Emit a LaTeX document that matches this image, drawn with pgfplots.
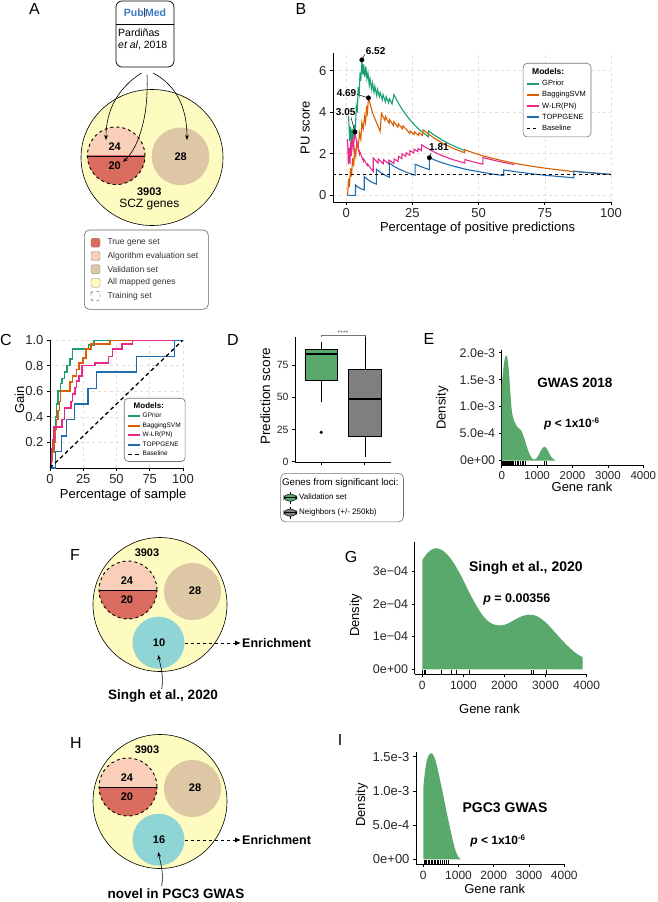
\documentclass[border=0pt]{standalone}
\usepackage{fontspec}
\setmainfont{Liberation Sans}
\setsansfont{Liberation Sans}
\usepackage{pgfplots}
\pgfplotsset{compat=1.18}
\usetikzlibrary{arrows.meta}

\newcommand\fs[1]{\fontsize{#1}{#1}\selectfont}

\definecolor{cgreen}{HTML}{1B9E77}
\definecolor{corange}{HTML}{D95F02}
\definecolor{cpink}{HTML}{E7298A}
\definecolor{cblue}{HTML}{1F6DB0}
\definecolor{dgreen}{HTML}{58A96B}
\definecolor{bgray}{HTML}{7F7F7F}
\definecolor{cyellow}{HTML}{FEFBC0}
\definecolor{csalmon}{HTML}{F9CFB9}
\definecolor{cred}{HTML}{D96C5E}
\definecolor{ctan}{HTML}{DDC7A5}
\definecolor{ccyan}{HTML}{90D5D6}
\definecolor{gridc}{HTML}{EFDCCB}
\definecolor{pmblue}{HTML}{3B78C2}

\pgfplotsset{
  gg/.style={
    scale only axis, axis lines=left,
    axis line style={-, line width=0.7pt, black},
    tick align=outside, major tick length=3pt,
    tick style={line width=0.7pt, black},
    /pgf/number format/assume math mode=true,
    /pgf/number format/1000 sep={},
    scaled ticks=false, clip mode=individual, anchor=south west,
    legend cell align=left,
    tick label style={text=black!85},
  },
  modleg/.style={legend image code/.code={\draw[##1,line width=2pt] (0pt,0pt)--(12pt,0pt);}},
  baseleg/.style={legend image code/.code={\draw[##1,line width=0.6pt] (0pt,0pt)--(12pt,0pt);}},
  boxg/.style={legend image code/.code={%
    \draw[fill=dgreen,line width=0.5pt] (0pt,-3.5pt) rectangle (13pt,3.5pt);
    \draw[line width=0.5pt] (0pt,0pt)--(13pt,0pt) (6.5pt,3.5pt)--(6.5pt,6pt) (6.5pt,-3.5pt)--(6.5pt,-6pt);}},
  boxk/.style={legend image code/.code={%
    \draw[fill=bgray,line width=0.5pt] (0pt,-3.5pt) rectangle (13pt,3.5pt);
    \draw[line width=0.5pt] (0pt,0pt)--(13pt,0pt) (6.5pt,3.5pt)--(6.5pt,6pt) (6.5pt,-3.5pt)--(6.5pt,-6pt);}},
}

% small Venn diagram used in F and H
\newcommand\venn[2]{%
  \fill[cyellow] (160,604.5) circle (67pt);
  \draw[line width=0.6pt] (160,604.5) circle (67pt);
  \begin{scope}\clip (98,560) rectangle (158,590);
    \fill[csalmon] (128,590) circle (29pt);\end{scope}
  \begin{scope}\clip (98,590) rectangle (158,620);
    \fill[cred] (128,590) circle (29pt);\end{scope}
  \draw[line width=0.5pt] (99,590)--(157,590);
  \draw[dashed, line width=0.9pt] (128,590) circle (29pt);
  \fill[ctan] (192.5,591.5) circle (28.5pt);
  \fill[ccyan] (158.5,642.7) circle (26pt);
  \node[font=\bfseries\fs{11}] at (147,553) {3903};
  \node[font=\bfseries\fs{11}] at (127,581) {24};
  \node[font=\bfseries\fs{11}] at (127,600) {20};
  \node[font=\bfseries\fs{11}] at (195,591) {28};
  \node[font=\bfseries\fs{11}] at (159,643) {#1};
  \draw[dashed, line width=0.8pt, -{Latex[length=6pt,width=5pt]}] (185,643) -- (241,643);
  \node[anchor=west, inner sep=0pt, font=\bfseries\fs{12.5}] at (242,643) {Enrichment};
  \draw[line width=0.6pt, -{Stealth[length=5pt]}] (161.7,689) .. controls (164,675) and (160,664) .. (158.3,655);
  \node[font=\bfseries\fs{13.5}] at (#2) {\strut\vennlabel};
}

\begin{document}
\begin{tikzpicture}
\useasboundingbox (0,0) rectangle (658pt,-902pt);

\begin{scope}[x=1pt,y=-1pt]
% panel letters
\node[font=\fs{16}] at (34.5,9) {A};
\node[font=\fs{16}] at (301,9) {B};
\node[font=\fs{16}] at (6,339.5) {C};
\node[font=\fs{16}] at (233,339.5) {D};
\node[font=\fs{16}] at (429,339) {E};
\node[font=\fs{16}] at (75,555) {F};
\node[font=\fs{16}] at (351,557) {G};
\node[font=\fs{16}] at (76,743) {H};
\node[font=\fs{16}] at (340,740) {I};

% ---- A: PubMed box
\draw[line width=0.7pt, rounded corners=6pt] (116,1) rectangle (174,67);
\draw[line width=0.6pt] (116,24) -- (174,24);
\node[font=\bfseries\fs{10.5}, inner sep=0pt] at (145,12.5) {{\color{pmblue}Pub}{\color{black!75}\rule[-0.5pt]{1.3pt}{9pt}}{\color{pmblue}Med}};
\node[anchor=west, inner sep=0pt, font=\fs{10.5}] at (118,33) {Pardiñas};
\node[anchor=west, inner sep=0pt, font=\fs{10.5}] at (118,45) {\textit{et al}, 2018};

% ---- A: venn
\fill[cyellow] (152,157.5) ellipse [x radius=71pt, y radius=68pt];
\draw[line width=0.6pt] (152,157.5) ellipse [x radius=71pt, y radius=68pt];
\begin{scope}\clip (86,126) rectangle (146,155.8);
  \fill[csalmon] (116.2,155.8) circle (28.8pt);\end{scope}
\begin{scope}\clip (86,155.8) rectangle (146,186);
  \fill[cred] (116.2,155.8) circle (28.8pt);\end{scope}
\draw[line width=0.5pt] (87.4,155.8)--(145,155.8);
\draw[dashed, line width=0.9pt] (116.2,155.8) circle (28.8pt);
\fill[ctan] (180.5,156.3) circle (28.8pt);
\node[font=\bfseries\fs{11}] at (114.7,146.7) {24};
\node[font=\bfseries\fs{11}] at (114.7,165.7) {20};
\node[font=\bfseries\fs{11}] at (180.7,156.7) {28};
\node[font=\bfseries\fs{11}] at (149.3,191.7) {3903};
\node[font=\fs{12}] at (149.3,205) {SCZ genes};
\draw[line width=0.6pt, -{Stealth[length=5pt]}] (141.5,73) .. controls (118,88) and (106,110) .. (106,140);
\draw[line width=0.6pt, -{Stealth[length=5pt]}] (147,75) .. controls (149,122) and (136,150) .. (123,162);
\draw[line width=0.6pt, -{Stealth[length=5pt]}] (153,73) .. controls (178,86) and (187,110) .. (187,140);

% ---- A: legend
\draw[black!60, line width=0.6pt, rounded corners=5pt, fill=white] (84.3,230) rectangle (208.3,309.3);
\filldraw[fill=cred, draw=black!45, rounded corners=1.5pt] (91,238.2) rectangle (100,247.2);
\filldraw[fill=csalmon, draw=black!45, rounded corners=1.5pt] (91,251.5) rectangle (100,260.5);
\filldraw[fill=ctan, draw=black!45, rounded corners=1.5pt] (91,264.8) rectangle (100,273.8);
\filldraw[fill=cyellow, draw=black!45, rounded corners=1.5pt] (91,278.2) rectangle (100,287.2);
\draw[black!80, dashed, rounded corners=1.5pt] (91,291.5) rectangle (100,300.5);
\node[anchor=west, font=\fs{8.5}, text=black!80] at (104,242.7) {True gene set};
\node[anchor=west, font=\fs{8.5}, text=black!80] at (104,256) {Algorithm evaluation set};
\node[anchor=west, font=\fs{8.5}, text=black!80] at (104,269.3) {Validation set};
\node[anchor=west, font=\fs{8.5}, text=black!80] at (104,282.7) {All mapped genes};
\node[anchor=west, font=\fs{8.5}, text=black!80] at (104,296) {Training set};

% ---- F and H
\def\vennlabel{Singh et al., 2020}
\venn{10}{163,696.7}
\begin{scope}[yshift=-197pt]
\def\vennlabel{novel in PGC3 GWAS}
\venn{16}{176,699}
\end{scope}
\end{scope}

% ================= B
\begin{axis}[gg, at={(333pt,-202pt)}, width=278pt, height=149pt,
  xmin=-5, xmax=100, ymin=-0.32, ymax=6.85,
  xtick={0,25,50,75,100}, ytick={0,2,4,6},
  grid=major, major grid style={dashed, gridc, line width=0.6pt},
  tick label style={font=\fs{13}},
  label style={font=\fs{13}},
  xlabel={Percentage of positive predictions}, ylabel={PU score},
  xlabel style={at={(axis description cs:0.52,-0.174)}, anchor=center},
  ylabel style={at={(axis description cs:-0.1,0.5)}, anchor=center},
  legend style={at={(axis description cs:0.683,0.933)}, anchor=north west,
    draw=black!55, rounded corners=4pt, line width=0.6pt, font=\fs{7.5},
    inner sep=3pt, row sep=0.3pt, fill=white},
]
\addlegendimage{empty legend}\addlegendentry{\hspace{-10pt}\textbf{\fs{8.5}Models:}}
\addplot[cgreen, line width=1.1pt, modleg] coordinates {
(0.88,3.83)(1.3,2.6)(1.6,3.3)(2.0,2.5)(2.3,3.2)(2.7,2.7)(3.0,3.4)(3.4,3.0)(3.8,4.3)(4.2,4.0)
(4.5,5.2)(4.9,4.9)(5.2,5.9)(5.5,5.5)(5.9,6.52)(6.3,5.8)(6.6,6.3)(7.0,5.7)(7.4,6.2)(7.8,5.6)
(8.2,5.9)(8.7,5.3)(9.0,5.6)(9.6,5.1)(9.9,5.4)(10.5,4.95)(10.8,5.25)(11.5,4.8)(11.8,5.1)
(12.5,4.75)(12.8,4.95)(13.6,4.6)(13.9,4.85)(14.8,4.5)(15.1,4.75)(16.0,4.45)(16.3,4.65)
(17.3,4.4)(18.0,4.85)(20,4.37)(22,3.97)(24,3.64)(26,3.36)(28,3.12)(31,2.82)(31.1,3.1)
(33,2.92)(36,2.68)(39,2.47)(42,2.3)(45,2.14)};
\addlegendentry{GPrior}
\addplot[corange, line width=1.1pt, modleg] coordinates {
(0.5,0)(0.9,0.8)(1.2,0.4)(1.6,1.3)(2.0,0.9)(2.4,1.8)(2.8,1.4)(3.2,2.2)(3.6,1.9)(4.0,2.6)
(4.5,2.3)(5.0,3.0)(5.5,2.7)(5.9,3.5)(6.4,3.2)(6.9,3.8)(7.3,3.5)(7.7,4.3)(8.0,4.0)(8.4,4.69)
(10,3.94)(12.8,3.08)(13.3,3.95)(14.6,3.6)(14.8,3.8)(16.2,3.47)(16.4,3.65)(17.8,3.36)(18.0,3.55)
(19.5,3.28)(19.7,3.45)(21.2,3.2)(21.4,3.35)(24.0,2.98)(24.2,3.1)(25.6,2.93)(25.8,3.05)
(27.3,2.88)(27.5,3.02)(28.8,2.88)(29.0,3.15)(33,2.77)(36,2.54)(40,2.28)(44.6,2.05)(44.6,2.2)
(50,1.96)(55,1.79)(60,1.64)(65,1.51)(70,1.4)(75,1.31)(80,1.23)(86,1.14)(86,1.16)(90,1.11)
(95,1.05)(100,1.0)};
\addlegendentry{BaggingSVM}
\addplot[cpink, line width=1.1pt, modleg] coordinates {
(0.5,2.7)(0.8,1.5)(1.1,2.3)(1.4,1.5)(1.7,2.6)(2.0,1.9)(2.3,2.8)(2.7,2.3)(3.3,3.05)(4,2.5)
(5,2.0)(5.1,2.1)(6.5,1.66)(6.6,1.74)(8,1.44)(8.1,1.5)(10.2,1.15)(10.2,1.8)(12,1.55)(12.1,1.75)
(14,1.52)(14.1,1.72)(16,1.52)(16.1,1.7)(18,1.53)(18.1,1.75)(19.6,1.63)(19.7,1.88)(21,1.77)
(21.1,2.0)(22.5,1.88)(22.6,2.05)(24,1.93)(24.1,2.15)(25.5,2.04)(25.6,2.22)(27,2.11)(27.1,2.25)
(28.4,2.15)(28.5,2.43)(30,2.31)(33,2.1)(36,1.92)(40,1.73)(44.8,1.55)(44.8,1.72)(48,1.61)
(51.6,1.5)(51.6,1.82)(56,1.68)(60,1.57)(63.5,1.48)};
\addlegendentry{W-LR(PN)}
\addplot[cblue, line width=1.1pt, modleg] coordinates {
(0.5,0)(3.5,0)(3.5,0.5)(4.5,0.39)(5.5,0.32)(6.8,0.26)(6.8,0.9)(8,0.77)(9.5,0.64)(11.4,0.54)
(11.4,1.25)(13,1.1)(14.5,0.98)(16.3,0.87)(16.3,1.55)(18,1.4)(20,1.26)(22,1.15)(24,1.05)
(26,0.97)(26,1.5)(28,1.39)(30,1.3)(31.4,1.24)(31.4,1.81)(35,1.62)(40,1.42)(45,1.26)(50,1.14)
(55,1.03)(59.5,0.955)(59.5,1.22)(65,1.12)(70,1.04)(75,0.97)(80,0.91)(86,0.845)(86,1.16)
(89,1.12)(92,1.085)(92,1.1)(100,1.01)};
\addlegendentry{TOPPGENE}
\addplot[black, dashed, line width=0.6pt, baseleg] coordinates {(-5,1)(100,1)};
\addlegendentry{Baseline}
\addplot[only marks, mark=*, mark size=2.2pt, black, forget plot] coordinates {
(5.9,6.52)(8.4,4.69)(3.3,3.05)(31.4,1.81)};
\node[font=\bfseries\fs{10}] at (axis cs:11.1,6.92) {6.52};
\draw[line width=0.5pt] (axis cs:5.9,6.52) -- (axis cs:7.0,6.78);
\node[font=\bfseries\fs{10}] at (axis cs:0.1,4.91) {4.69};
\draw[line width=0.5pt] (axis cs:4.0,4.86) -- (axis cs:8.4,4.69);
\node[font=\bfseries\fs{10}] at (axis cs:-0.2,4.0) {3.05};
\draw[line width=0.5pt] (axis cs:1.8,3.75) -- (axis cs:3.3,3.05);
\node[font=\bfseries\fs{10}] at (axis cs:35,2.3) {1.81};
\draw[line width=0.5pt] (axis cs:32,2.03) -- (axis cs:31.4,1.81);
\end{axis}

% ================= C
\begin{axis}[gg, at={(50pt,-468pt)}, width=133pt, height=128pt,
  xmin=0, xmax=100, ymin=0, ymax=1,
  xtick={0,25,50,75,100}, ytick={0.2,0.4,0.6,0.8,1.0},
  yticklabel style={/pgf/number format/.cd, fixed, fixed zerofill, precision=1},
  grid=major, major grid style={dashed, gridc, line width=0.6pt},
  tick label style={font=\fs{13}},
  label style={font=\fs{13}},
  xlabel={Percentage of sample}, ylabel={Gain},
  xlabel style={at={(axis description cs:0.55,-0.21)}, anchor=center},
  ylabel style={at={(axis description cs:-0.23,0.53)}, anchor=center},
  legend style={at={(axis description cs:0.556,0.547)}, anchor=north west,
    draw=black!55, rounded corners=4pt, line width=0.6pt, font=\fs{6.5},
    inner sep=2.5pt, row sep=-0.8pt, fill=white},
]
\addlegendimage{empty legend}\addlegendentry{\hspace{-9pt}\textbf{\fs{8}Models:}}
\addplot[cgreen, line width=1.6pt, modleg] coordinates {
(0,0)(1,0)(1,0.06)(2,0.06)(2,0.15)(3,0.15)(3,0.3)(4,0.3)(4,0.4)(5,0.4)(5,0.5)(6,0.5)(6,0.6)
(8,0.6)(8,0.66)(9,0.66)(9,0.7)(11,0.7)(11,0.75)(13,0.75)(13,0.8)(15,0.8)(15,0.85)(17,0.85)
(17,0.93)(29,0.93)(29,0.96)(33,0.96)(33,1)(100,1)};
\addlegendentry{GPrior}
\addplot[corange, line width=1.6pt, modleg] coordinates {
(0,0)(1,0)(1,0.05)(2,0.05)(2,0.12)(3,0.12)(3,0.2)(4,0.2)(4,0.3)(5,0.3)(5,0.38)(6,0.38)
(6,0.45)(7,0.45)(7,0.52)(8,0.52)(8,0.6)(15,0.6)(15,0.67)(17,0.67)(17,0.72)(20,0.72)(20,0.77)
(22,0.77)(22,0.82)(25,0.82)(25,0.86)(27,0.86)(27,0.93)(31,0.93)(31,0.97)(45,0.97)(45,1)(100,1)};
\addlegendentry{BaggingSVM}
\addplot[cpink, line width=1.6pt, modleg] coordinates {
(0,0)(1,0)(1,0.15)(2,0.15)(2,0.22)(3,0.22)(3,0.32)(9,0.32)(9,0.38)(11,0.38)(11,0.47)(16,0.47)
(16,0.52)(17,0.52)(17,0.58)(19,0.58)(19,0.63)(20,0.63)(20,0.68)(22,0.68)(22,0.72)(24,0.72)
(24,0.8)(34,0.8)(34,0.82)(44,0.82)(44,0.87)(47,0.87)(47,0.93)(54,0.93)(54,0.97)(62,0.97)
(62,1)(100,1)};
\addlegendentry{W-LR(PN)}
\addplot[cblue, line width=1.6pt, modleg] coordinates {
(0,0)(4,0)(4,0.13)(8.5,0.13)(8.5,0.25)(12.5,0.25)(12.5,0.38)(18.5,0.38)(18.5,0.5)(28.5,0.5)
(28.5,0.62)(35,0.62)(35,0.75)(65,0.75)(65,0.87)(93.5,0.87)(93.5,1)(100,1)};
\addlegendentry{TOPPGENE}
\addplot[black, line width=1.3pt, dash pattern=on 4pt off 3pt, baseleg] coordinates {(0,0)(100,1)};
\addlegendentry{Baseline}
\end{axis}

% ================= D
\begin{axis}[gg, at={(295pt,-462.3pt)}, width=96pt, height=125.6pt,
  xmin=0.4, xmax=2.6, ymin=-0.5, ymax=97,
  xtick={1,2}, xticklabels={{},{}}, ytick={0,25,50,75},
  tick label style={font=\fs{10.5}},
  label style={font=\fs{13.5}},
  ylabel={Prediction score},
  ylabel style={at={(axis description cs:-0.31,0.525)}, anchor=center},
  legend style={at={(axis description cs:0.49,-0.086)}, anchor=north,
    draw=black!55, rounded corners=5pt, line width=0.6pt, font=\fs{8},
    inner sep=3pt, row sep=2.5pt, fill=white},
]
% validation set box
\addplot[forget plot, black, line width=0.6pt] coordinates {(1,87.2)(1,93.1)};
\addplot[forget plot, black, line width=0.6pt] coordinates {(1,46.5)(1,63.4)};
\addplot[forget plot, fill=dgreen, draw=black, line width=0.6pt] coordinates {
(0.625,63.4)(1.375,63.4)(1.375,87.2)(0.625,87.2)(0.625,63.4)};
\addplot[forget plot, black, line width=1.6pt] coordinates {(0.625,83.4)(1.375,83.4)};
\addplot[forget plot, only marks, mark=*, mark size=1.4pt, black] coordinates {(1,22.8)};
% neighbors box
\addplot[forget plot, black, line width=0.6pt] coordinates {(2,71.7)(2,96.5)};
\addplot[forget plot, black, line width=0.6pt] coordinates {(2,3.4)(2,19.4)};
\addplot[forget plot, fill=bgray, draw=black, line width=0.6pt] coordinates {
(1.625,19.4)(2.375,19.4)(2.375,71.7)(1.625,71.7)(1.625,19.4)};
\addplot[forget plot, black, line width=1.6pt] coordinates {(1.625,48.6)(2.375,48.6)};
\draw[black!55, line width=0.5pt] (axis cs:1,96.5) -- (axis cs:1,98.3) -- (axis cs:2,98.3) -- (axis cs:2,96.5);
\node[font=\fs{7}, text=black!60, anchor=south, inner sep=0.5pt] at (axis cs:1.5,97.6) {****};
\addlegendimage{empty legend}\addlegendentry{\hspace{-17pt}\fs{9.7}Genes from significant loci:}
\addlegendimage{boxg}\addlegendentry{Validation set}
\addlegendimage{boxk}\addlegendentry{Neighbors (+/- 250kb)}
\end{axis}

% ================= E
\begin{axis}[gg, at={(501.7pt,-465pt)}, width=141.6pt, height=115pt,
  xmin=0, xmax=4000, ymin=-0.08, ymax=2.05,
  xtick={0,1000,2000,3000,4000}, ytick={0,0.5,1,1.5,2},
  yticklabels={0e+00,5.0e-4,1.0e-3,1.5e-3,2.0e-3},
  x tick label style={font=\fs{11.5}},
  y tick label style={font=\fs{12.5}},
  label style={font=\fs{13}},
  xlabel={Gene rank}, ylabel={Density},
  xlabel style={at={(axis description cs:0.567,-0.19)}, anchor=center},
  ylabel style={at={(axis description cs:-0.42,0.496)}, anchor=center},
]
\addplot[fill=dgreen, draw=none] coordinates {
(0,0)(0,1.4)(30,1.6)(60,1.78)(90,1.9)(120,1.95)(150,1.93)(180,1.82)(210,1.6)(240,1.3)
(270,1.02)(300,0.86)(350,0.74)(400,0.67)(450,0.62)(500,0.59)(560,0.55)(620,0.45)(680,0.33)
(740,0.2)(800,0.1)(860,0.04)(920,0.02)(980,0.04)(1040,0.1)(1100,0.18)(1160,0.24)(1220,0.26)
(1280,0.22)(1340,0.14)(1400,0.07)(1460,0.03)(1510,0.01)(1510,0)} \closedcycle;
\addplot[only marks, mark=|, mark size=1.8pt, black, line width=0.5pt] coordinates {
(15,-0.047)(40,-0.047)(65,-0.047)(90,-0.047)(110,-0.047)(135,-0.047)(160,-0.047)(185,-0.047)
(210,-0.047)(240,-0.047)(270,-0.047)(300,-0.047)(340,-0.047)(380,-0.047)(430,-0.047)
(470,-0.047)(520,-0.047)(570,-0.047)(620,-0.047)(670,-0.047)(1215,-0.047)(1245,-0.047)};
\node[font=\bfseries\fs{13.5}] at (axis cs:2070,1.44) {GWAS 2018};
\node[font=\bfseries\fs{12}] at (axis cs:1980,0.68) {\textit{p} < 1x10\textsuperscript{-6}};
\end{axis}

% ================= G
\begin{axis}[gg, at={(414.5pt,-674.3pt)}, width=172.8pt, height=132.6pt,
  xmin=-190, xmax=4015, ymin=-0.153, ymax=3.9,
  xtick={0,1000,2000,3000,4000}, ytick={0,1,2,3},
  yticklabels={0e+00,1e−04,2e−04,3e−04},
  x tick label style={font=\fs{12}},
  y tick label style={font=\fs{12.5}},
  label style={font=\fs{13}},
  xlabel={Gene rank}, ylabel={Density},
  xlabel style={at={(axis description cs:0.434,-0.26)}, anchor=center},
  ylabel style={at={(axis description cs:-0.34,0.445)}, anchor=center},
]
\addplot[fill=dgreen, draw=none] coordinates {
(0,0)(0,3.34)(100,3.52)(200,3.64)(300,3.7)(400,3.69)(500,3.63)(600,3.52)(700,3.37)(800,3.18)
(900,2.96)(1000,2.72)(1100,2.46)(1200,2.21)(1300,1.98)(1400,1.77)(1500,1.6)(1600,1.47)
(1700,1.39)(1800,1.35)(1900,1.34)(2000,1.36)(2100,1.41)(2200,1.48)(2300,1.55)(2400,1.61)
(2500,1.65)(2600,1.67)(2700,1.66)(2800,1.62)(2900,1.54)(3000,1.44)(3100,1.31)(3200,1.17)
(3300,1.03)(3400,0.89)(3500,0.76)(3600,0.64)(3700,0.53)(3800,0.44)(3903,0.37)(3903,0)} \closedcycle;
\addplot[only marks, mark=|, mark size=2.1pt, black, line width=0.5pt] coordinates {
(10,-0.089)(40,-0.089)(60,-0.089)(470,-0.089)(715,-0.089)(820,-0.089)(1135,-0.089)
(2640,-0.089)(2690,-0.089)(3010,-0.089)};
\node[font=\bfseries\fs{14}] at (axis cs:2520,3.1) {Singh et al., 2020};
\node[font=\bfseries\fs{12.5}] at (axis cs:2300,2.15) {\textit{p} = 0.00356};
\end{axis}

% ================= I
\begin{axis}[gg, at={(416pt,-864.3pt)}, width=149pt, height=112.3pt,
  xmin=-207, xmax=4020, ymin=-0.073, ymax=1.57,
  xtick={0,1000,2000,3000,4000}, ytick={0,0.5,1,1.5},
  yticklabels={0e+00,5.0e-4,1.0e-3,1.5e-3},
  x tick label style={font=\fs{12}},
  y tick label style={font=\fs{13}},
  label style={font=\fs{13}},
  xlabel={Gene rank}, ylabel={Density},
  xlabel style={at={(axis description cs:0.528,-0.215)}, anchor=center},
  ylabel style={at={(axis description cs:-0.364,0.528)}, anchor=center},
]
\addplot[fill=dgreen, draw=none] coordinates {
(0,0)(0,1.05)(50,1.3)(100,1.45)(150,1.52)(200,1.55)(250,1.55)(300,1.51)(350,1.44)(400,1.34)
(450,1.22)(500,1.1)(550,0.98)(600,0.85)(650,0.72)(700,0.6)(750,0.48)(800,0.36)(850,0.25)
(900,0.15)(950,0.08)(1000,0.03)(1050,0.01)(1050,0)} \closedcycle;
\addplot[only marks, mark=|, mark size=2pt, black, line width=0.5pt] coordinates {
(15,-0.044)(45,-0.044)(90,-0.044)(130,-0.044)(175,-0.044)(215,-0.044)(260,-0.044)(300,-0.044)
(345,-0.044)(390,-0.044)(430,-0.044)(480,-0.044)(530,-0.044)(590,-0.044)(640,-0.044)(700,-0.044)};
\node[font=\bfseries\fs{14}] at (axis cs:2318,0.75) {PGC3 GWAS};
\node[font=\bfseries\fs{12}] at (axis cs:2119,0.27) {\textit{p} < 1x10\textsuperscript{-6}};
\end{axis}
\end{tikzpicture}
\end{document}
